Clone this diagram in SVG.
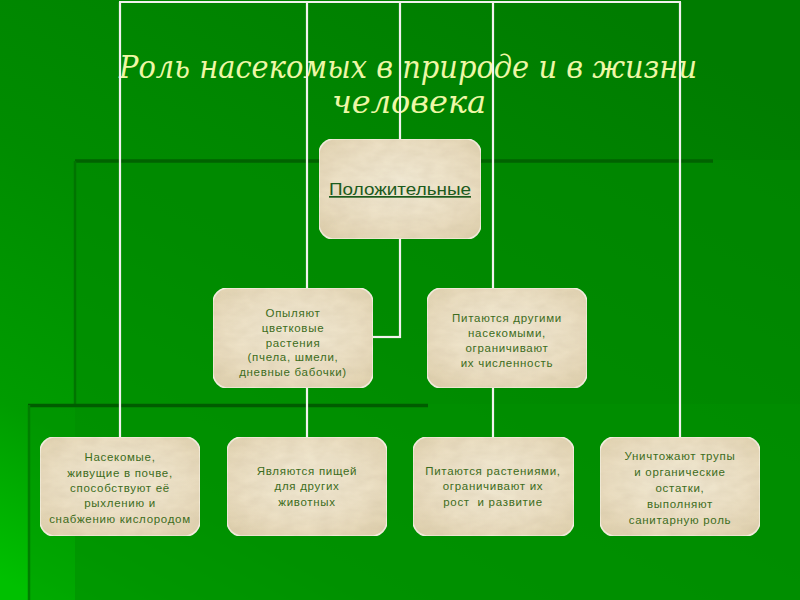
<svg xmlns="http://www.w3.org/2000/svg" width="800" height="600" viewBox="0 0 800 600">
<defs>
<linearGradient id="bg" x1="0.75" y1="0" x2="0.05" y2="1">
<stop offset="0" stop-color="#007c00"/>
<stop offset="0.5" stop-color="#008c00"/>
<stop offset="0.8" stop-color="#009c00"/>
<stop offset="1" stop-color="#00c000"/>
</linearGradient>
<radialGradient id="paper" cx="0.5" cy="0.45" r="0.7">
<stop offset="0" stop-color="#f3ebd6"/>
<stop offset="0.6" stop-color="#ece0c4"/>
<stop offset="1" stop-color="#e0d1ae"/>
</radialGradient>
<filter id="tex" x="0" y="0" width="1" height="1">
<feTurbulence type="fractalNoise" baseFrequency="0.06 0.12" numOctaves="3" seed="4" result="n"/>
<feColorMatrix in="n" type="matrix" values="0 0 0 0 0.55  0 0 0 0 0.45  0 0 0 0 0.3  0 0 0 0.35 -0.05" result="c"/>
<feComposite in="c" in2="SourceGraphic" operator="in" result="t"/>
<feMerge><feMergeNode in="SourceGraphic"/><feMergeNode in="t"/></feMerge>
</filter>
</defs>
<style>
.node rect{fill:url(#paper);stroke:#f7f2e4;stroke-width:1.6;filter:url(#tex)}
.node text{font-family:"Liberation Sans",Arial,sans-serif;font-size:11.5px;letter-spacing:0.7px;fill:#3c6c20;text-anchor:middle}
.conn line{stroke:#f2f2ee;stroke-width:2.2;fill:none}
.title{font-family:"DejaVu Serif","Liberation Serif",serif;font-style:italic;font-size:32px;fill:#eef7a6;text-anchor:middle}
</style>

<!-- background -->
<rect x="0" y="0" width="800" height="600" fill="url(#bg)"/>
<rect x="75" y="160" width="725" height="440" fill="#008a00" opacity="0.55"/>
<rect x="28" y="404" width="772" height="196" fill="#009000" opacity="0.45"/>
<line x1="75" y1="161" x2="713" y2="161" stroke="#006200" stroke-width="3.5"/>
<line x1="75" y1="161" x2="75" y2="404" stroke="#007400" stroke-width="2.5"/>
<line x1="28" y1="405.5" x2="428" y2="405.5" stroke="#005c00" stroke-width="3.5"/>
<line x1="29" y1="405" x2="29" y2="600" stroke="#007e00" stroke-width="2.5"/>

<text class="title" x="408" y="78" textLength="578" lengthAdjust="spacingAndGlyphs">Роль насекомых в природе и в жизни</text>
<text class="title" x="409" y="113">человека</text>

<g id="connectors" class="conn">
<line x1="119" y1="2" x2="681" y2="2"/>
<line x1="120" y1="2" x2="120" y2="437"/>
<line x1="307" y1="2" x2="307" y2="437"/>
<line x1="400" y1="2" x2="400" y2="338"/>
<line x1="373" y1="337" x2="401" y2="337"/>
<line x1="493" y1="2" x2="493" y2="437"/>
<line x1="680" y1="2" x2="680" y2="437"/>
</g>

<g id="n-top" class="node">
<rect x="319" y="139" width="162" height="100" rx="15"/>
<text x="400" y="195" style="font-size:17px;letter-spacing:0;fill:#1c5a1c;text-decoration:underline" textLength="142" lengthAdjust="spacingAndGlyphs">Положительные</text>
</g>

<g id="n-pollinate" class="node">
<rect x="213" y="288" width="160" height="100" rx="15"/>
<text x="293" y="317">Опыляют</text>
<text x="293" y="332">цветковые</text>
<text x="293" y="347">растения</text>
<text x="293" y="361">(пчела, шмели,</text>
<text x="293" y="376">дневные бабочки)</text>
</g>

<g id="n-predators" class="node">
<rect x="427" y="288" width="160" height="100" rx="15"/>
<text x="507" y="322">Питаются другими</text>
<text x="507" y="337">насекомыми,</text>
<text x="507" y="352">ограничивают</text>
<text x="507" y="367">их численность</text>
</g>

<g id="n-soil" class="node">
<rect x="40" y="437" width="160" height="99" rx="15"/>
<text x="120" y="461">Насекомые,</text>
<text x="120" y="477">живущие в почве,</text>
<text x="120" y="492">способствуют её</text>
<text x="120" y="507">рыхлению и</text>
<text x="120" y="523">снабжению кислородом</text>
</g>

<g id="n-food" class="node">
<rect x="227" y="437" width="160" height="99" rx="15"/>
<text x="307" y="475">Являются пищей</text>
<text x="307" y="490">для других</text>
<text x="307" y="506">животных</text>
</g>

<g id="n-plants" class="node">
<rect x="413" y="437" width="161" height="99" rx="15"/>
<text x="493" y="475">Питаются растениями,</text>
<text x="493" y="490">ограничивают их</text>
<text x="493" y="506" xml:space="preserve">рост  и развитие</text>
</g>

<g id="n-sanitary" class="node">
<rect x="600" y="437" width="160" height="99" rx="15"/>
<text x="680" y="460">Уничтожают трупы</text>
<text x="680" y="476">и органические</text>
<text x="680" y="492">остатки,</text>
<text x="680" y="508">выполняют</text>
<text x="680" y="524">санитарную роль</text>
</g>
</svg>
